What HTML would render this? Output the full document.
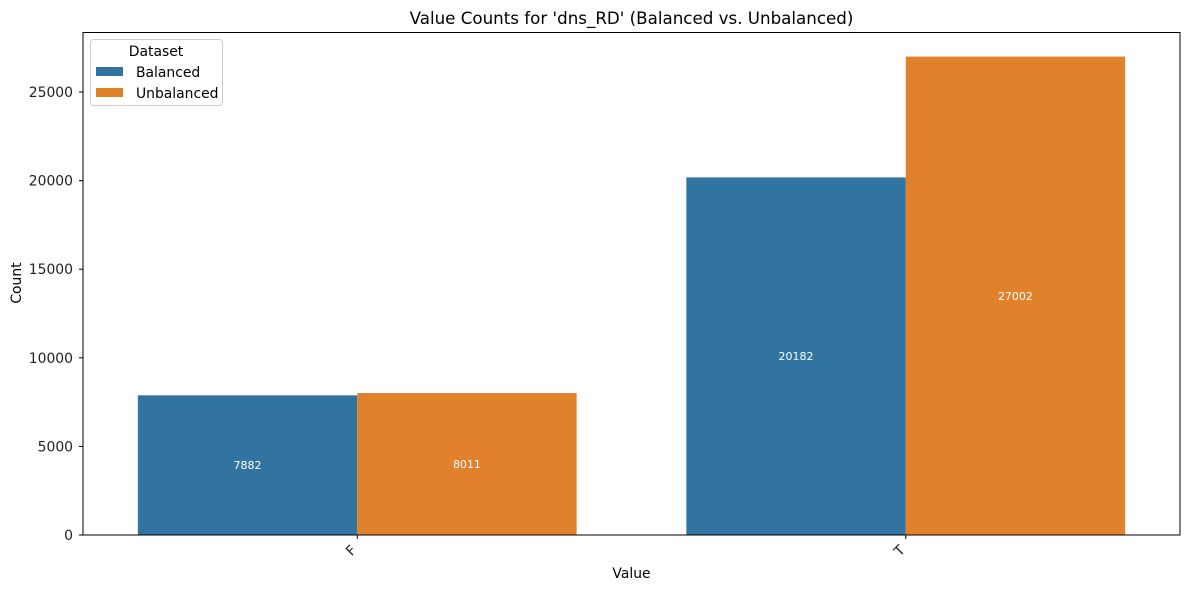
<!DOCTYPE html>
<html><head><meta charset="utf-8"><style>
body{margin:0;background:#fff;font-family:"Liberation Sans","DejaVu Sans",sans-serif}
svg text{font-family:"DejaVu Sans","Liberation Sans",sans-serif}
</style></head><body>
<svg id="chart" width="1189" height="590" xmlns="http://www.w3.org/2000/svg"></svg>
<script>
const categories = ["F", "T"];
const balanced = [7882, 20182];
const unbalanced = [8011, 27002];
const yTicks = [0, 5000, 10000, 15000, 20000, 25000];
const seriesNames = ["Balanced", "Unbalanced"];

const L = 83, R = 1180, T = 32.5, B = 535;
const xMin = -0.5, xMax = 1.5, yMax = 28360;
const colors = ["#3274a1", "#e1812c"];
const svg = document.getElementById('chart');
const NS = "http://www.w3.org/2000/svg";
function xs(v){ return L + (v - xMin) / (xMax - xMin) * (R - L); }
function ys(v){ return B - v / yMax * (B - T); }
function mk(tag, attrs, text){
  const e = document.createElementNS(NS, tag);
  for (const k in attrs) e.setAttribute(k, attrs[k]);
  if (text !== undefined) e.textContent = text;
  svg.appendChild(e);
  return e;
}
const series = [balanced, unbalanced];
series.forEach((vals, s) => {
  vals.forEach((v, i) => {
    const x0 = xs(i - 0.4 + 0.4 * s), x1 = xs(i + 0.4 * s);
    const r = mk('rect', {x: x0, y: ys(v), width: x1 - x0, height: ys(0) - ys(v), fill: colors[s]});
    
    
    const t = mk('text', {x: (x0 + x1) / 2, y: ys(v / 2) + 4, 'font-size': 11, fill: '#fff', 'text-anchor': 'middle'}, String(v));
    
    
  });
});
const frame = mk('rect', {x: L, y: T, width: R - L, height: B - T, fill: 'none', stroke: '#000', 'stroke-width': 1});


yTicks.forEach(v => {
  const y = ys(v);
  const tk = mk('line', {x1: L - 4, x2: L, y1: y, y2: y, stroke: '#000'});
  
  
  const tl = mk('text', {x: L - 10, y: y + 5, 'font-size': 13.9, 'text-anchor': 'end', fill: '#222'}, String(v));
  
  
});
categories.forEach((c, i) => {
  const x = xs(i);
  const tk = mk('line', {x1: x, x2: x, y1: B, y2: B + 4, stroke: '#000'});
  
  
  const tl = mk('text', {x: x, y: B + 16, 'font-size': 13.9, 'text-anchor': 'end', fill: '#222', transform: 'rotate(-45 ' + x + ' ' + (B + 16) + ')'}, c);
  
  
});
</script>
<svg style="position:absolute;left:0;top:0" width="1189" height="590" xmlns="http://www.w3.org/2000/svg">
<text x="631.5" y="24" font-size="16.7" text-anchor="middle" fill="#000">Value Counts for 'dns_RD' (Balanced vs. Unbalanced)</text>
<text x="631.5" y="578" font-size="13.9" text-anchor="middle" fill="#000">Value</text>
<text x="21" y="283" font-size="13.9" text-anchor="middle" fill="#000" transform="rotate(-90 21 283)">Count</text>
<g>
<rect x="90.5" y="39.5" width="132" height="66" rx="3" fill="#fff" fill-opacity="0.8" stroke="#ccc"/>
<text x="156" y="56" font-size="13.9" text-anchor="middle">Dataset</text>
<rect x="96" y="67" width="27" height="9" fill="#3274a1"/>
<text x="136" y="77" font-size="13.9">Balanced</text>
<rect x="96" y="88" width="27" height="9" fill="#e1812c"/>
<text x="136" y="98" font-size="13.9">Unbalanced</text>
</g>
</svg>
</body></html>
